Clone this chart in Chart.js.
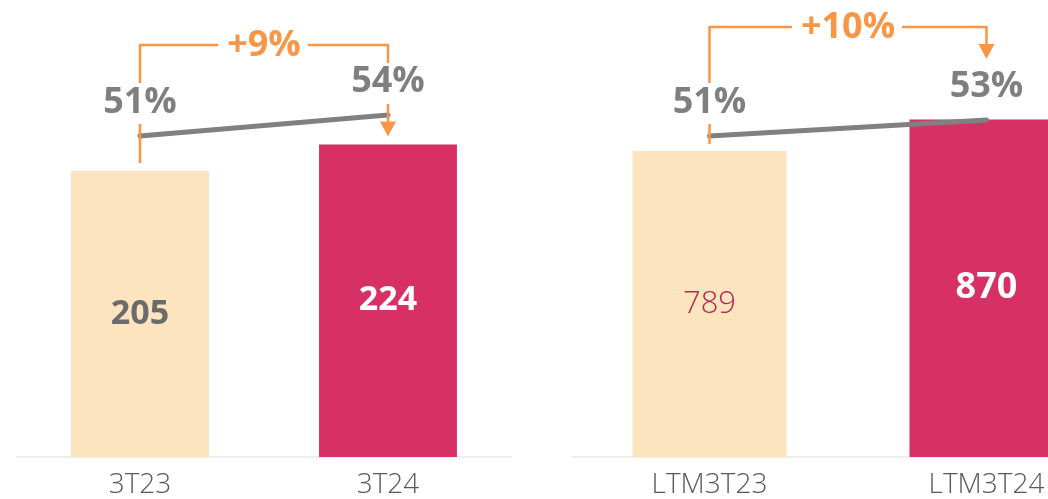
<!DOCTYPE html>
<html><head><meta charset="utf-8">
<script src="https://cdn.jsdelivr.net/npm/chart.js@4"></script>
<style>
html,body{margin:0;padding:0;background:#fff;overflow:hidden;width:1048px;height:499px;}
#wrap{position:relative;width:1048px;height:499px;overflow:hidden;}
#c1{position:absolute;left:16px;top:0;width:496px;height:499px;}
#c2{position:absolute;left:571px;top:0;width:554px;height:499px;}
</style></head><body>
<div id="wrap">
<canvas id="c1" width="496" height="499"></canvas>
<canvas id="c2" width="554" height="499"></canvas>
</div>
<script>
// ---- data ----
const quarterCategories = ['3T23', '3T24'];
const quarterValues = [205, 224];
const quarterMargins = [51, 54];
const quarterGrowth = '+9%';

const ltmCategories = ['LTM3T23', 'LTM3T24'];
const ltmValues = [789, 870];
const ltmMargins = [51, 53];
const ltmGrowth = '+10%';

// ---- styles ----
const FONT = '"Open Sans", "Liberation Sans", sans-serif';
const barColors = ['#FCE4BF', '#D73064'];
const ORANGE = '#F79646';
const GREY = '#808080';

const annot = {
  id: 'annot',
  afterDatasetsDraw(chart, args, opts) {
    const ctx = chart.ctx;
    const lineMeta = chart.getDatasetMeta(0);
    const barMeta = chart.getDatasetMeta(1);
    const lineData = chart.data.datasets[0].data;
    const barData = chart.data.datasets[1].data;
    ctx.save();
    ctx.textAlign = 'center';
    ctx.textBaseline = 'middle';
    // values inside bars
    barMeta.data.forEach((bar, i) => {
      const st = opts.valueStyles[i];
      ctx.font = `${st.weight} ${st.size}px ${FONT}`;
      ctx.fillStyle = st.color;
      ctx.fillText(String(barData[i]), bar.x, (bar.y + bar.base) / 2);
    });
    // margin labels
    ctx.font = `bold 36px ${FONT}`;
    ctx.fillStyle = '#7F7F7F';
    lineMeta.data.forEach((pt, i) => {
      ctx.fillText(lineData[i] + '%', pt.x, pt.y - 33);
    });
    // growth bracket
    const p0 = lineMeta.data[0], p1 = lineMeta.data[1];
    const b0 = barMeta.data[0], b1 = barMeta.data[1];
    const top = opts.top;
    const lbl0Top = p0.y - 47;
    const lbl1Top = p1.y - 47, lbl1Bot = p1.y - 19;
    ctx.strokeStyle = ORANGE;
    ctx.fillStyle = ORANGE;
    ctx.lineWidth = 2.5;
    ctx.lineCap = 'butt';
    ctx.lineJoin = 'miter';
    ctx.font = `bold 36px ${FONT}`;
    const tw = ctx.measureText(opts.text).width;
    const mid = (p0.x + p1.x) / 2;
    // left upper
    ctx.beginPath();
    ctx.moveTo(p0.x, lbl0Top - 6);
    ctx.lineTo(p0.x, top);
    ctx.lineTo(mid - tw / 2 - 9, top);
    ctx.stroke();
    // left lower
    ctx.beginPath();
    ctx.moveTo(p0.x, p0.y - 12);
    ctx.lineTo(p0.x, b0.y - opts.lowerGap);
    ctx.stroke();
    // right
    let tip;
    ctx.beginPath();
    ctx.moveTo(mid + tw / 2 + 7, top);
    ctx.lineTo(p1.x, top);
    if (opts.arrowToBar) {
      ctx.lineTo(p1.x, lbl1Top - 5);
      ctx.stroke();
      tip = b1.y - 8;
      ctx.beginPath();
      ctx.moveTo(p1.x, lbl1Bot + 8);
      ctx.lineTo(p1.x, tip - 14);
      ctx.stroke();
    } else {
      tip = lbl1Top - 14;
      ctx.lineTo(p1.x, tip - 14);
      ctx.stroke();
    }
    ctx.beginPath();
    ctx.moveTo(p1.x - 8, tip - 15);
    ctx.lineTo(p1.x + 8, tip - 15);
    ctx.lineTo(p1.x, tip);
    ctx.closePath();
    ctx.fill();
    ctx.fillText(opts.text, mid, top + 1);
    ctx.restore();
  }
};

function makeChart(id, cats, vals, margins, growth, yMax, y2Min, y2Max, valueStyles, bracket) {
  return new Chart(document.getElementById(id), {
    data: {
      labels: cats,
      datasets: [
        {
          type: 'line', data: margins, yAxisID: 'y2', order: 0,
          borderColor: GREY, borderWidth: 5, borderCapStyle: 'round',
          pointRadius: 0, tension: 0, fill: false
        },
        {
          type: 'bar', data: vals, yAxisID: 'y', order: 1,
          backgroundColor: barColors, borderWidth: 0,
          barPercentage: 1, categoryPercentage: 0.556
        }
      ]
    },
    options: {
      responsive: false, animation: false, devicePixelRatio: 1,
      layout: { padding: 0 },
      plugins: {
        legend: { display: false }, tooltip: { enabled: false },
        annot: Object.assign({ valueStyles, text: growth }, bracket)
      },
      scales: {
        x: {
          grid: { display: false, drawTicks: false },
          border: { display: true, color: '#EEEEEE', width: 2 },
          ticks: { color: '#595959', font: { family: FONT, size: 28, weight: '300' }, padding: 11, maxRotation: 0 },
          afterFit(s) { s.height = 42; }
        },
        y: { display: false, min: 0, max: yMax },
        y2: { display: false, min: y2Min, max: y2Max }
      }
    },
    plugins: [annot]
  });
}

makeChart('c1', quarterCategories, quarterValues, quarterMargins, quarterGrowth,
  327.6, 5.14, 70.43,
  [{ color: '#6B6B6B', weight: 'bold', size: 34 }, { color: '#FFFFFF', weight: 'bold', size: 34 }],
  { top: 45, arrowToBar: true, lowerGap: 8 });

makeChart('c2', ltmCategories, ltmValues, ltmMargins, ltmGrowth,
  1178, 10.875, 68,
  [{ color: '#B22A52', weight: '300', size: 31 }, { color: '#FFFFFF', weight: 'bold', size: 36 }],
  { top: 27, arrowToBar: false, lowerGap: 7 });
</script>
</body></html>
